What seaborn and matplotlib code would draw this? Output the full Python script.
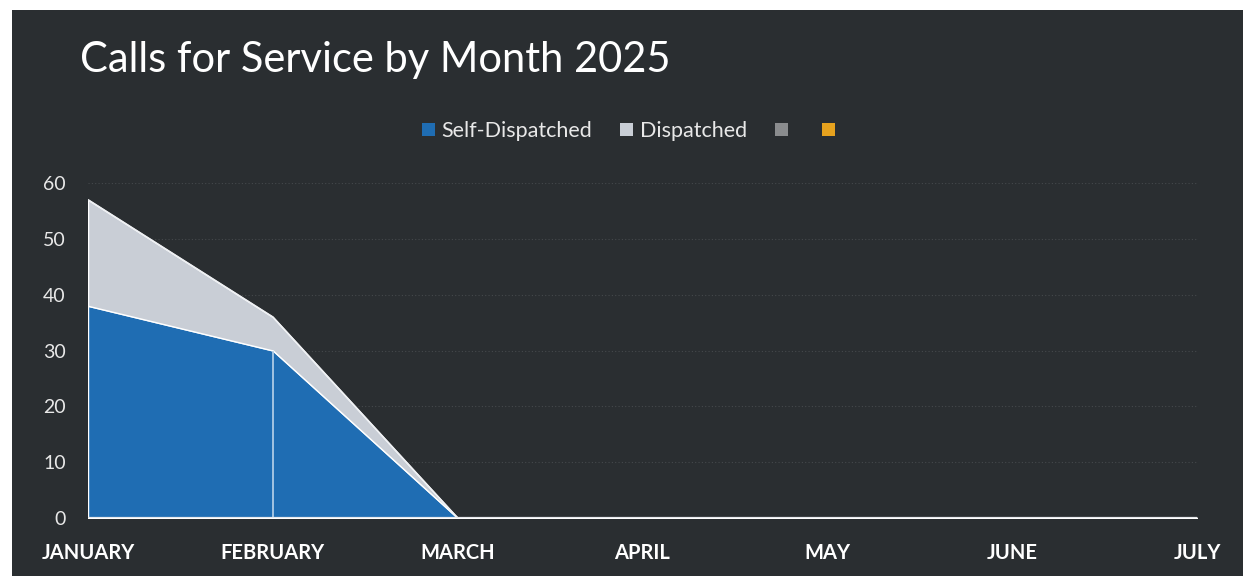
import matplotlib
matplotlib.use("Agg")
import matplotlib.pyplot as plt
import seaborn as sns
import pandas as pd
import numpy as np
from matplotlib.patches import Rectangle, Patch

months = ["JANUARY", "FEBRUARY", "MARCH", "APRIL", "MAY", "JUNE", "JULY"]
self_dispatched = [38, 30, 0, 0, 0, 0, 0]
dispatched = [19, 6, 0, 0, 0, 0, 0]
y_ticks = [0, 10, 20, 30, 40, 50, 60]
title = "Calls for Service by Month 2025"
legend_labels = ["Self-Dispatched", "Dispatched", "", ""]

BG = "#2a2e31"
BLUE = "#1f6db3"
LIGHT = "#c9ced6"
GREY = "#8a8c8e"
ORANGE = "#e6a21e"
TXT = "#e8e8e8"

sns.set_theme(style="dark")
plt.rcParams["font.family"] = ["Lato", "DejaVu Sans"]

fig = plt.figure(figsize=(12.43, 5.76), dpi=100)
fig.patch.set_facecolor("white")
fig.patches.append(Rectangle((12 / 1243, 0), 1 - 12 / 1243, 1 - 10 / 576,
                             transform=fig.transFigure, facecolor=BG,
                             edgecolor="none", zorder=-10))

ax = fig.add_axes([88 / 1243, 1 - 518 / 576, (1197 - 88) / 1243, (518 - 183) / 576])
ax.set_facecolor("none")

df = pd.DataFrame({"month": months, "Self-Dispatched": self_dispatched,
                   "Dispatched": dispatched})
df["x"] = np.arange(len(months))
df["total"] = df["Self-Dispatched"] + df["Dispatched"]

for y in y_ticks[1:]:
    ax.axhline(y, color="#45494c", lw=0.8, ls=(0, (1, 2)), zorder=0)

ax.stackplot(df["x"], df["Self-Dispatched"], df["Dispatched"],
             colors=[BLUE, LIGHT], zorder=2)
sns.lineplot(data=df, x="x", y="total", ax=ax, color="#eef0f3", lw=1.2, zorder=3)
ax.vlines(df["x"][1], 0, df["Self-Dispatched"][1], color="#b9d2ea", lw=1.2, zorder=3)
ax.axhline(0, color="#e6e8ec", lw=1.6, zorder=4)

ax.set_xlim(0, len(months) - 1)
ax.set_ylim(0, 60)
ax.set_yticks(y_ticks)
ax.set_yticklabels([str(v) for v in y_ticks], color=TXT, fontsize=14)
ax.set_xticks(df["x"])
ax.set_xticklabels(months, color="white", fontsize=14.5, fontweight="bold")
ax.tick_params(axis="x", pad=18, length=0)
ax.tick_params(axis="y", pad=16, length=0)
ax.set_xlabel("")
ax.set_ylabel("")
ax.grid(False)
for s in ax.spines.values():
    s.set_visible(False)

fig.text(80 / 1243, 1 - 60 / 576, title, color="white", fontsize=30,
         va="center", ha="left")

handles = [Patch(facecolor=c, edgecolor="none") for c in [BLUE, LIGHT, GREY, ORANGE]]
fig.legend(handles, legend_labels, loc="center", bbox_to_anchor=(632 / 1243, 1 - 131 / 576),
           ncol=4, frameon=False, fontsize=15.5, labelcolor=TXT, handlelength=0.6,
           handleheight=0.6, handletextpad=0.3, columnspacing=1.3)

fig.savefig("out.png", dpi=100, facecolor=fig.get_facecolor())
